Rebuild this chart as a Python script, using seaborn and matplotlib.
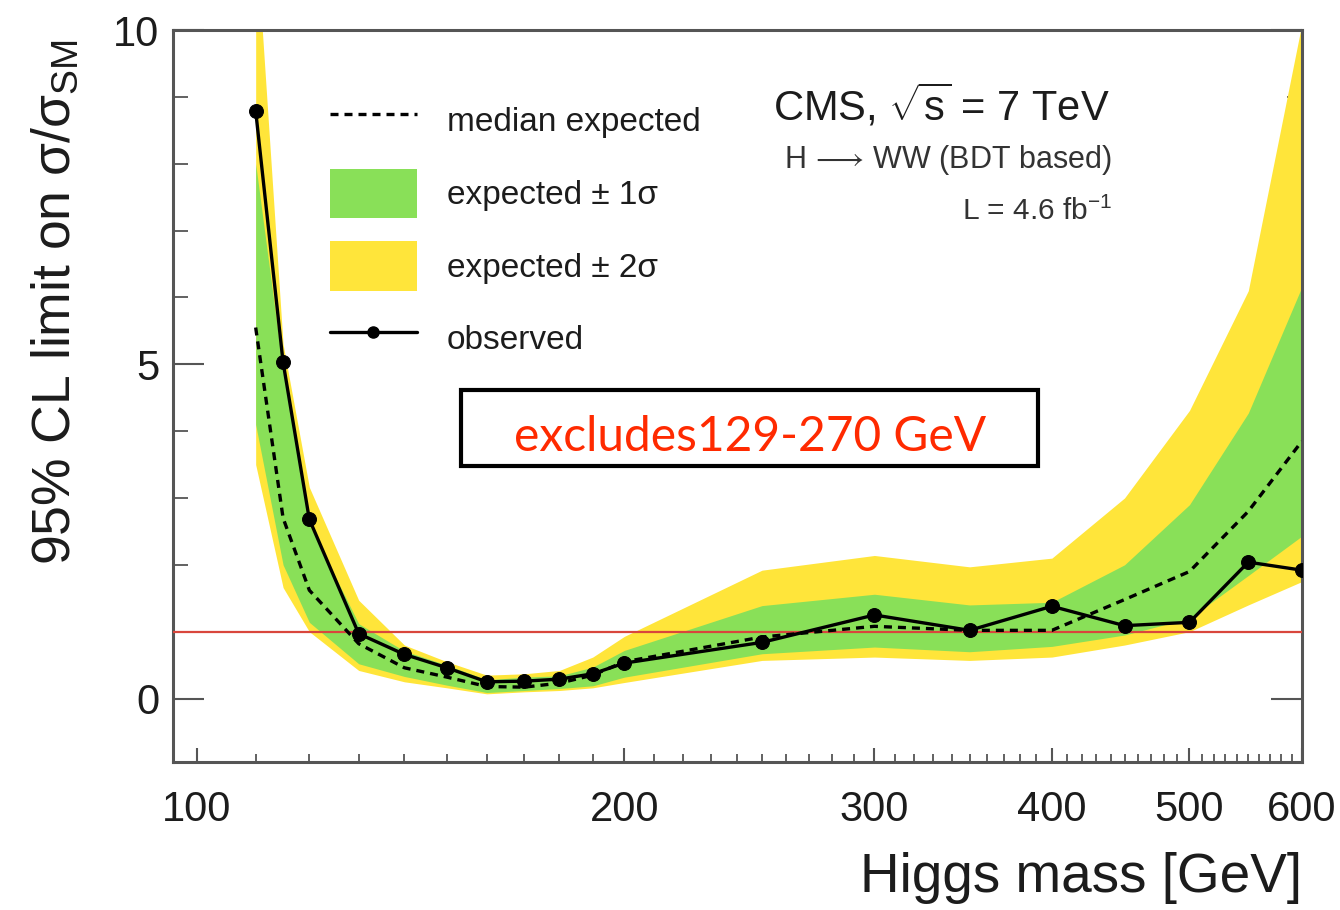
import numpy as np
import pandas as pd
import matplotlib
matplotlib.use("Agg")
import matplotlib.pyplot as plt
import seaborn as sns
from matplotlib.ticker import FixedLocator, FuncFormatter, NullFormatter, MultipleLocator
from matplotlib.lines import Line2D
from matplotlib.patches import Patch, Rectangle

# ---- data ----
mass = [110, 115, 120, 130, 140, 150, 160, 170, 180, 190, 200, 250, 300, 350, 400, 450, 500, 550, 600]
observed = [8.79, 5.03, 2.68, 0.97, 0.66, 0.46, 0.25, 0.26, 0.29, 0.37, 0.53, 0.84, 1.25, 1.02, 1.38, 1.09, 1.14, 2.04, 1.92]
median_exp = [5.55, 2.7, 1.62, 0.82, 0.46, 0.32, 0.18, 0.17, 0.23, 0.35, 0.55, 0.92, 1.08, 1.02, 1.02, 1.48, 1.9, 2.8, 3.85]
green_lo = [4.1, 2.0, 1.14, 0.52, 0.33, 0.2, 0.09, 0.12, 0.15, 0.19, 0.32, 0.67, 0.77, 0.7, 0.78, 0.95, 1.2, 1.84, 2.43]
green_hi = [8.0, 4.9, 2.6, 1.12, 0.71, 0.5, 0.28, 0.32, 0.34, 0.47, 0.72, 1.39, 1.56, 1.4, 1.44, 2.0, 2.9, 4.27, 6.16]
yellow_lo = [3.5, 1.66, 1.0, 0.42, 0.25, 0.16, 0.07, 0.1, 0.12, 0.16, 0.24, 0.57, 0.62, 0.57, 0.62, 0.8, 1.0, 1.4, 1.75]
yellow_hi = [11.5, 5.3, 3.16, 1.47, 0.8, 0.55, 0.35, 0.37, 0.42, 0.62, 0.93, 1.92, 2.14, 1.97, 2.1, 3.0, 4.31, 6.1, 10.1]

x_major = [100, 200, 300, 400, 500, 600]
y_major = [0, 5, 10]
legend_labels = ["median expected", "expected ± 1σ", "expected ± 2σ", "observed"]

GREEN = "#89e058"
YELLOW = "#ffe53a"
RED_LINE = "#d9463c"
TEXT = "#1c1c1c"
DASH = (0, (2.4, 1.8))

df = pd.DataFrame({"mass": mass, "observed": observed, "median": median_exp})

sns.set_theme(style="ticks")
plt.rcParams["font.family"] = ["Liberation Sans", "DejaVu Sans"]
plt.rcParams["mathtext.fontset"] = "custom"
plt.rcParams["mathtext.rm"] = "Liberation Sans"
plt.rcParams["mathtext.it"] = "Liberation Sans:italic"
plt.rcParams["mathtext.bf"] = "Liberation Sans:bold"
plt.rcParams["mathtext.sf"] = "Liberation Sans"

fig = plt.figure(figsize=(13.4, 9.1), dpi=100)
ax = fig.add_axes([0.1291, 0.1626, 0.8425, 0.8044])

ax.set_xscale("log")
ax.fill_between(mass, yellow_lo, yellow_hi, color=YELLOW, lw=0, zorder=1)
ax.fill_between(mass, green_lo, green_hi, color=GREEN, lw=0, zorder=2)
ax.axhline(1.0, color=RED_LINE, lw=1.6, zorder=3)
sns.lineplot(data=df, x="mass", y="median", ax=ax, color="black", lw=2.4,
             linestyle=DASH, legend=False, zorder=4)
sns.lineplot(data=df, x="mass", y="observed", ax=ax, color="black", lw=2.4,
             marker="o", markersize=10, markeredgecolor="black", legend=False, zorder=5)

ax.set_xlim(96.2, 600)
ax.set_ylim(-0.95, 10)

ax.xaxis.set_major_locator(FixedLocator(x_major))
ax.xaxis.set_major_formatter(FuncFormatter(lambda v, p: f"{v:.0f}"))
minor = [m for m in range(100, 601, 10) if m not in x_major]
ax.xaxis.set_minor_locator(FixedLocator(minor))
ax.xaxis.set_minor_formatter(NullFormatter())
ax.yaxis.set_major_locator(FixedLocator(y_major))
ax.yaxis.set_minor_locator(MultipleLocator(1))

ax.tick_params(axis="x", which="major", direction="in", length=10, width=1.5, top=False,
               labelsize=30, pad=20, colors="#555555", labelcolor=TEXT)
ax.tick_params(axis="x", which="minor", direction="in", length=6, width=1.3, top=False, colors="#555555")
ax.tick_params(axis="y", which="major", direction="in", length=22, width=1.5, left=True, right=True,
               labelsize=30, pad=10, colors="#555555", labelcolor=TEXT)
ax.tick_params(axis="y", which="minor", direction="in", length=11, width=1.3, left=True, right=True,
               colors="#555555")
for s in ax.spines.values():
    s.set_color("#555555")
    s.set_linewidth(2.2)

ax.set_xlabel("Higgs mass [GeV]", loc="right", fontsize=39.5, color=TEXT, labelpad=16)
ax.set_ylabel("95% CL limit on σ/σ$_{\\mathrm{SM}}$", loc="top", fontsize=38.5, color=TEXT, labelpad=18)
ax.yaxis.set_label_coords(-0.082, 0.988)

# legend
handles = [
    Line2D([], [], color="black", lw=2.4, linestyle=DASH),
    Patch(facecolor=GREEN, edgecolor="none"),
    Patch(facecolor=YELLOW, edgecolor="none"),
    Line2D([], [], color="black", lw=2.4, marker="o", markersize=8),
]
ax.legend(handles, legend_labels, loc="upper left", bbox_to_anchor=(0.139, 0.91),
          frameon=False, fontsize=24, handlelength=2.6, handleheight=1.9,
          labelspacing=0.7, handletextpad=0.9, borderpad=0, borderaxespad=0,
          labelcolor=TEXT)

# CMS labels
ax.text(0.83, 0.896, "CMS, $\\sqrt{\\mathrm{s}}$ = 7 TeV", transform=ax.transAxes,
        ha="right", va="center", fontsize=30, color=TEXT)
ax.text(0.832, 0.822, "H $\\!\\longrightarrow\\!$ WW (BDT based)", transform=ax.transAxes,
        ha="right", va="center", fontsize=22, color="#333333")
ax.text(0.832, 0.752, "L = 4.6 fb$^{-1}$", transform=ax.transAxes,
        ha="right", va="center", fontsize=21.5, color="#333333")

# annotation box
ax.add_patch(Rectangle((0.255, 0.404), 0.511, 0.104, transform=ax.transAxes,
                       facecolor="white", edgecolor="black", lw=3, zorder=6))
ax.text(0.511, 0.444, "excludes129-270 GeV", transform=ax.transAxes, ha="center", va="center",
        fontsize=34.5, color="#ff2a00", family=["Lato", "DejaVu Sans"], zorder=7)

fig.savefig("out.png", dpi=100)
